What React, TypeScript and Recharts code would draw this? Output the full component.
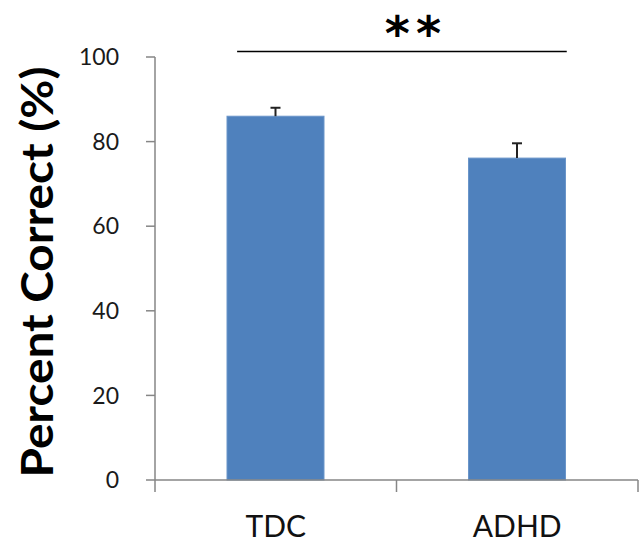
import React from 'react';
import { BarChart, Bar, XAxis, YAxis, ReferenceLine, Label } from 'recharts';

const groups = ['TDC', 'ADHD'];
const groupPos = [0.5, 1.5];
const means = [86.0, 76.1];
const errors = [2.0, 3.5];
const yTicks = [0, 20, 40, 60, 80, 100];
const xTicks = [0, 0.5, 1, 1.5, 2];
const yLabel = 'Percent Correct (%)';
const sigText = '**';
const sigFrom = 0.34;
const sigTo = 1.705;
const sigLevel = 101.3;

const data = groups.map((g, i) => ({ group: g, pos: groupPos[i], mean: means[i], err: errors[i] }));

const AXIS = '#868686';

const BarWithError = (props: any) => {
  const { x, y, width, height, fill, payload } = props;
  const ppu = height / payload.mean;
  const top = y - payload.err * ppu;
  const cx = x + width / 2;
  return (
    <g>
      <rect x={x} y={y} width={width} height={height} fill={fill} stroke="#6a95c9" strokeWidth={1} />
      <line x1={cx} x2={cx} y1={y} y2={top} stroke="#222" strokeWidth={2} />
      <line x1={cx - 5} x2={cx + 5} y1={top} y2={top} stroke="#222" strokeWidth={2} />
    </g>
  );
};

const XTick = (props: any) => {
  const { x, y, payload } = props;
  const v = payload.value;
  if (Number.isInteger(v)) {
    return <line x1={x} x2={x} y1={y} y2={y + 12} stroke={AXIS} strokeWidth={1.5} />;
  }
  const idx = groupPos.indexOf(v);
  return (
    <text x={x} y={y + 57} textAnchor="middle" fontFamily="Lato" fontSize={30} fill="#111">
      {groups[idx]}
    </text>
  );
};

const YLabelContent = () => (
  <text
    x={53}
    y={272}
    transform="rotate(-90 53 272)"
    textAnchor="middle"
    fontFamily="Lato"
    fontWeight="bold"
    fontSize={43}
    fill="#000"
    textLength={411}
    lengthAdjust="spacingAndGlyphs"
  >
    {yLabel}
  </text>
);

const SigLabel = (props: any) => {
  const vb = props.viewBox || {};
  const cx = (vb.x || 0) + (vb.width || 0) / 2 + 14;
  const y = (vb.y || 0) - 2;
  return (
    <text x={cx} y={y} textAnchor="middle" fontFamily="DejaVu Sans" fontWeight="bold" fontSize={48} letterSpacing={6} fill="#000">
      {sigText}
    </text>
  );
};

export default function App() {
  return (
    <div style={{ position: 'absolute', left: 0, top: 0, width: 639, height: 544, background: '#fff' }}>
      <BarChart width={639} height={544} data={data} margin={{ top: 57, right: 1, left: 95, bottom: 0 }}>
        <XAxis
          dataKey="pos"
          type="number"
          domain={[0, 2]}
          ticks={xTicks}
          interval={0}
          tickLine={false}
          tickSize={0}
          tickMargin={0}
          height={64}
          axisLine={{ stroke: AXIS, strokeWidth: 1.5 }}
          tick={<XTick />}
        />
        <YAxis
          type="number"
          domain={[0, 100]}
          ticks={yTicks}
          interval={0}
          width={60}
          tickSize={9}
          tickMargin={27}
          axisLine={{ stroke: AXIS, strokeWidth: 1.5 }}
          tickLine={{ stroke: AXIS, strokeWidth: 1.5 }}
          tick={{ fontFamily: 'Lato', fontSize: 23, fill: '#1a1a1a' }}
        >
          <Label content={<YLabelContent />} />
        </YAxis>
        <Bar dataKey="mean" fill="#4F81BD" barSize={97} isAnimationActive={false} shape={<BarWithError />} />
        <ReferenceLine
          segment={[{ x: sigFrom, y: sigLevel }, { x: sigTo, y: sigLevel }]}
          stroke="#000"
          strokeWidth={1.5}
          ifOverflow="visible"
          label={<SigLabel />}
        />
      </BarChart>
    </div>
  );
}
